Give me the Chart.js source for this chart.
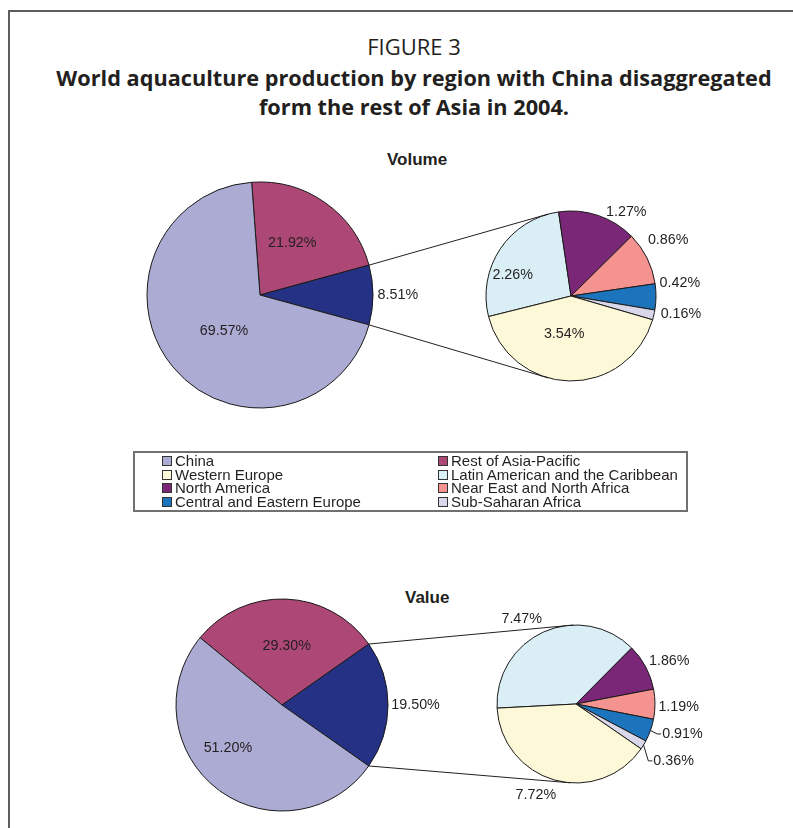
<!DOCTYPE html>
<html>
<head>
<meta charset="utf-8">
<script src="https://cdn.jsdelivr.net/npm/chart.js@4.4.1/dist/chart.umd.min.js"></script>
<style>
  body { margin: 0; background: #fff; }
  #page { position: relative; width: 793px; height: 828px; overflow: hidden; background: #fff; }
  #frame { position: absolute; left: 8px; top: 10px; width: 820px; height: 840px;
           border-left: 2px solid #5d5d5d; border-top: 2px solid #5d5d5d; }
  .head { position: absolute; left: 0; width: 828px; text-align: center; color: #231f20;
          font-family: "Open Sans", Lato, sans-serif; }
  .sub { position: absolute; font: bold 17px "Liberation Sans", Arial, sans-serif; color: #231f20;
         line-height: 20px; }
  canvas { position: absolute; }
  #legend { position: absolute; left: 133px; top: 451px; width: 551px; height: 57px;
            border: 2px solid #707070; font: 15px "Liberation Sans", Arial, sans-serif; color: #231f20; }
  .item { position: absolute; line-height: 13.5px; white-space: nowrap; }
  .box { display: inline-block; width: 8px; height: 8px; border: 1px solid #333;
         margin-right: 3px; vertical-align: 0px; }
</style>
</head>
<body>
<div id="page">
  <div id="frame"></div>
  <div class="head" style="top:32px;font-size:22px;line-height:28px;">FIGURE 3</div>
  <div class="head" style="top:63px;font-size:21.7px;line-height:29px;font-weight:bold;">World aquaculture production by region with China disaggregated<br>form the rest of Asia in 2004.</div>
  <div class="sub" style="left:387px;top:150px;">Volume</div>
  <div class="sub" style="left:405px;top:588px;">Value</div>

  <canvas id="volMain" width="320" height="300" style="left:100px;top:145px;"></canvas>
  <canvas id="volSub" width="280" height="260" style="left:431px;top:166px;"></canvas>
  <canvas id="valMain" width="320" height="260" style="left:122px;top:575px;"></canvas>
  <canvas id="valSub" width="280" height="260" style="left:436px;top:574px;"></canvas>
  <canvas id="lines" width="793" height="828" style="left:0;top:0;"></canvas>

  <div id="legend"></div>
</div>

<script>
// main pie: Rest of Asia-Pacific, all other regions, China (clockwise)
const mainCats = ['Rest of Asia-Pacific', 'Other regions', 'China'];
// secondary pie splits the "Other regions" slice
const subCats = ['Latin American and the Caribbean', 'North America', 'Near East and North Africa',
                 'Central and Eastern Europe', 'Sub-Saharan Africa', 'Western Europe'];

const volumeMain = [21.92, 8.51, 69.57];
const volumeSub = [2.26, 1.27, 0.86, 0.42, 0.16, 3.54];
const valueMain = [29.30, 19.50, 51.20];
const valueSub = [7.47, 1.86, 1.19, 0.91, 0.36, 7.72];

const legendCats = ['China', 'Rest of Asia-Pacific', 'Western Europe', 'Latin American and the Caribbean',
                    'North America', 'Near East and North Africa', 'Central and Eastern Europe', 'Sub-Saharan Africa'];

const colors = {
  'China': '#ababd3',
  'Rest of Asia-Pacific': '#ad4776',
  'Other regions': '#253185',
  'Western Europe': '#fdf9d8',
  'Latin American and the Caribbean': '#d9eff5',
  'North America': '#7b2777',
  'Near East and North Africa': '#f49390',
  'Central and Eastern Europe': '#1c75bc',
  'Sub-Saharan Africa': '#d8d8ea'
};

// label placement per slice: [radius factor, angle shift (deg), leader line]
const volMainPos = [[0.54, -3.3], [1.22, 0], [0.45, -5.5]];
const volSubPos = [[0.73, -13.8], [1.18, 15], [1.32, -3.5], [1.29, -7.4], [1.31, -3.6], [0.45, 9.2]];
const valMainPos = [[0.56, 2.4], [1.26, 0], [0.65, 14.5]];
const valSubPos = [[1.28, -8.4], [1.30, 3.2], [1.30, 1.4], [1.40, -3.8, true], [1.43, -1, true], [1.26, 8]];

const sliceLabels = {
  id: 'sliceLabels',
  afterDatasetsDraw(chart, args, opts) {
    const ctx = chart.ctx;
    const vals = chart.data.datasets[0].data;
    ctx.save();
    ctx.font = '14.3px "Liberation Sans", Arial, sans-serif';
    ctx.fillStyle = '#231f20';
    ctx.strokeStyle = '#231f20';
    ctx.lineWidth = 1;
    ctx.textAlign = 'center';
    ctx.textBaseline = 'middle';
    chart.getDatasetMeta(0).data.forEach((arc, i) => {
      const p = arc.getProps(['x', 'y', 'startAngle', 'endAngle', 'outerRadius']);
      const pos = opts.pos[i];
      const mid = (p.startAngle + p.endAngle) / 2;
      const a = mid + pos[1] * Math.PI / 180;
      const x = p.x + p.outerRadius * pos[0] * Math.cos(a);
      const y = p.y + p.outerRadius * pos[0] * Math.sin(a);
      const txt = vals[i].toFixed(2) + '%';
      ctx.fillText(txt, x, y);
      if (pos[2]) {
        const w = ctx.measureText(txt).width;
        ctx.beginPath();
        ctx.moveTo(p.x + p.outerRadius * Math.cos(mid), p.y + p.outerRadius * Math.sin(mid));
        ctx.lineTo(x - w / 2 - 5, y);
        ctx.lineTo(x - w / 2 - 1, y);
        ctx.stroke();
      }
    });
    ctx.restore();
  }
};

function makePie(id, cats, data, radius, rotation, pos) {
  return new Chart(document.getElementById(id), {
    type: 'pie',
    data: {
      labels: cats,
      datasets: [{
        data: data,
        backgroundColor: cats.map(c => colors[c]),
        borderColor: '#1a1a1a',
        borderWidth: 1
      }]
    },
    options: {
      responsive: false,
      animation: false,
      events: [],
      radius: radius,
      rotation: rotation,
      layout: { padding: 0 },
      plugins: {
        legend: { display: false },
        tooltip: { enabled: false },
        sliceLabels: { pos: pos }
      }
    },
    plugins: [sliceLabels]
  });
}

// rotate main pies so the split slice is centred on the right
const mainRot = d => 90 - (d[0] + d[1] / 2) / d.reduce((s, v) => s + v, 0) * 360;

const volMain = makePie('volMain', mainCats, volumeMain, 113, mainRot(volumeMain), volMainPos);
const volSub = makePie('volSub', subCats, volumeSub, 85, 256, volSubPos);
const valMain = makePie('valMain', mainCats, valueMain, 106, mainRot(valueMain), valMainPos);
const valSub = makePie('valSub', subCats, valueSub, 79, 267, valSubPos);

// connector lines between the split slice and the secondary pie
function connect(ctx, main, sub, topDeg, botDeg) {
  const m = main.getDatasetMeta(0).data[1].getProps(['x', 'y', 'startAngle', 'endAngle', 'outerRadius']);
  const s = sub.getDatasetMeta(0).data[0].getProps(['x', 'y', 'outerRadius']);
  const mx = main.canvas.offsetLeft + m.x, my = main.canvas.offsetTop + m.y;
  const sx = sub.canvas.offsetLeft + s.x, sy = sub.canvas.offsetTop + s.y;
  const ends = [[m.startAngle, topDeg], [m.endAngle, botDeg]];
  ends.forEach(e => {
    const b = e[1] * Math.PI / 180;
    ctx.beginPath();
    ctx.moveTo(mx + m.outerRadius * Math.cos(e[0]), my + m.outerRadius * Math.sin(e[0]));
    ctx.lineTo(sx + s.outerRadius * Math.cos(b), sy + s.outerRadius * Math.sin(b));
    ctx.stroke();
  });
}

const lctx = document.getElementById('lines').getContext('2d');
lctx.strokeStyle = '#231f20';
lctx.lineWidth = 1;
connect(lctx, volMain, volSub, -105.5, 105.5);
connect(lctx, valMain, valSub, -92, 94);

// legend, two columns
const legend = document.getElementById('legend');
legendCats.forEach((c, i) => {
  const el = document.createElement('div');
  el.className = 'item';
  el.style.left = (i % 2 ? 303 : 27) + 'px';
  el.style.top = (1 + Math.floor(i / 2) * 13.5) + 'px';
  el.innerHTML = '<span class="box" style="background:' + colors[c] + '"></span>' + c;
  legend.appendChild(el);
});
</script>
</body>
</html>
